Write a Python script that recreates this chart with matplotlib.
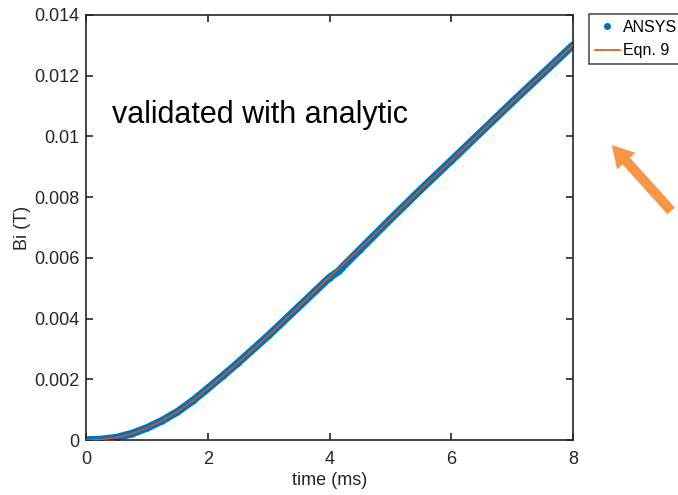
import numpy as np
import matplotlib.pyplot as plt
from matplotlib.lines import Line2D
from matplotlib.patches import FancyArrowPatch

plt.rcParams['font.family'] = ['Liberation Sans', 'DejaVu Sans']

# ANSYS transient result, induced field vs time
t_ansys = [0, 0.25, 0.5, 0.75, 1.0, 1.25, 1.5, 1.75, 2.0, 2.25, 2.5, 3.0, 3.5, 4.0,
           4.15, 4.2, 4.5, 5.0, 5.5, 6.0, 6.5, 7.0, 7.5, 8.0]
bi_ansys = [0.0, 0.00002, 0.00008, 0.00021, 0.00040, 0.00064, 0.00093, 0.00129,
            0.00170, 0.00212, 0.00255, 0.00345, 0.00440, 0.00535, 0.00556, 0.00567,
            0.00627, 0.00727, 0.00825, 0.00920, 0.01016, 0.01112, 0.01206, 0.01300]

# analytic curve (Eqn. 9)
t_eqn = [0, 0.25, 0.5, 0.75, 1.0, 1.25, 1.5, 1.75, 2.0, 2.25, 2.5, 3.0, 3.5, 4.0,
         4.5, 5.0, 5.5, 6.0, 6.5, 7.0, 7.5, 8.0]
bi_eqn = [0.0, 0.00002, 0.00008, 0.00021, 0.00040, 0.00064, 0.00093, 0.00129,
          0.00170, 0.00212, 0.00255, 0.00345, 0.00440, 0.00537, 0.00630, 0.00727,
          0.00825, 0.00920, 0.01016, 0.01112, 0.01206, 0.01300]

blue = '#0072BD'
orange = '#D95319'
axcol = '#262626'

fig = plt.figure(figsize=(6.78, 4.95), dpi=100)
ax = fig.add_axes([0.127, 0.111, 0.718, 0.859])

ax.plot(t_ansys, bi_ansys, color=blue, lw=5.5, solid_capstyle='round',
        solid_joinstyle='round', zorder=2)
ax.plot(t_ansys, bi_ansys, '.', color=blue, ms=7, zorder=2)
ax.plot(t_eqn, bi_eqn, color=orange, lw=1.2, zorder=3)

ax.set_xlim(0, 8)
ax.set_ylim(0, 0.014)
ax.set_xticks([0, 2, 4, 6, 8])
ax.set_yticks(np.arange(0, 0.0141, 0.002))
ax.set_yticklabels(['0', '0.002', '0.004', '0.006', '0.008', '0.01', '0.012', '0.014'])
ax.tick_params(direction='in', top=True, right=True, length=5, width=1.2,
               colors=axcol, labelsize=13, pad=5)
ax.tick_params(axis='x', pad=8)
for s in ax.spines.values():
    s.set_color(axcol)
    s.set_linewidth(1.2)
ax.set_xlabel('time (ms)', fontsize=13, color=axcol, labelpad=3)
ax.set_ylabel('Bi (T)', fontsize=13, color=axcol, labelpad=2)

handles = [Line2D([], [], color=blue, marker='.', ls='none', ms=8),
           Line2D([], [], color=orange, lw=1.2)]
leg = fig.legend(handles, ['ANSYS', 'Eqn. 9'], loc='upper left',
                 bbox_to_anchor=(589 / 678, 1 - 14 / 495), fontsize=11.5,
                 frameon=True, fancybox=False, borderpad=0.35, handlelength=1.6,
                 handletextpad=0.15, labelspacing=0.55, borderaxespad=0)
leg.get_frame().set_edgecolor(axcol)
leg.get_frame().set_linewidth(1.2)

fig.text(112 / 678, 1 - 115 / 495, 'validated with analytic', fontsize=22,
         va='center', ha='left', color='black')

arrow = FancyArrowPatch((673 / 678, 1 - 213 / 495), (610 / 678, 1 - 143 / 495),
                        transform=fig.transFigure,
                        arrowstyle='simple,head_width=1.5,head_length=1.3,tail_width=0.6',
                        mutation_scale=12, color='#F79646', lw=0)
fig.patches.append(arrow)

fig.savefig('out.png', dpi=100)
